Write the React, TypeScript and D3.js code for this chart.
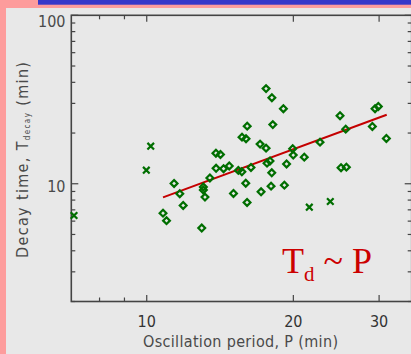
import { useEffect, useRef } from "react";
import * as d3 from "d3";

// oscillation period P (min) and decay time Td (min)
const periodDiamond = [
  10.8, 10.98, 11.38, 11.69, 11.88, 12.97, 13.07, 13.07, 13.17, 13.48,
  13.87, 13.88, 14.17, 14.38, 14.77, 15.07, 15.42, 15.68, 15.69, 15.97,
  15.99, 16.07, 16.08, 16.37, 17.09, 17.17, 17.58, 17.58, 17.66, 17.91,
  18.0, 18.06, 18.07, 18.15, 19.08, 19.17, 19.37, 19.94, 19.99, 21.06,
  22.69, 24.94, 25.06, 25.62, 25.7, 29.06, 29.43, 29.89, 31.05,
];
const decayDiamond = [
  6.69, 6.04, 10.04, 8.73, 7.43, 5.46, 9.57, 9.19, 8.33, 10.83,
  15.19, 12.36, 14.93, 12.28, 12.76, 8.76, 12.0, 11.78, 18.91, 10.08,
  18.5, 7.74, 21.98, 12.5, 17.19, 8.96, 16.27, 36.71, 13.25, 13.66,
  9.68, 11.62, 32.41, 22.44, 27.89, 9.81, 13.11, 16.14, 14.79, 14.39,
  17.66, 25.34, 12.45, 21.1, 12.55, 21.89, 27.89, 28.77, 18.58,
];
const periodCross = [7.09, 9.98, 10.19, 21.57, 23.82];
const decayCross = [6.48, 12.04, 16.72, 7.26, 7.85];

// fitted Td ~ P line
const fitPeriod = [10.8, 31.1];
const fitDecay = [8.3, 25.7];

const xMajorTicks = [10, 20, 30];
const xMinorTicks = [8, 9];
const yMajorTicks = [10, 100];
const yMinorTicks = [2, 3, 4, 5, 6, 7, 8, 9, 20, 30, 40, 50, 60, 70, 80, 90];

const App = () => {
  const svgRef = useRef<SVGSVGElement>(null);

  useEffect(() => {
    document.body.style.margin = "0";
    const svg = d3.select(svgRef.current);
    svg.selectAll("*").remove();

    const W = 411;
    const H = 354;
    const box = { left: 71.3, right: 411.7, top: 15.3, bottom: 301.5 };
    const green = "#006e00";
    const axisColor = "#444";
    const textColor = "#4a4a4a";
    const labelFont = "'Liberation Sans Narrow', 'DejaVu Sans Condensed', sans-serif";

    svg.attr("width", W).attr("height", H);

    // page background: pink frame, blue bar, gray panel
    svg.append("rect").attr("width", W).attr("height", H).attr("fill", "#fd9c9c");
    svg.append("rect").attr("x", 38).attr("y", 0).attr("width", W - 38).attr("height", 4.7).attr("fill", "#3737c9");
    svg.append("rect").attr("x", 6).attr("y", 8).attr("width", W - 6).attr("height", H - 8).attr("fill", "#e8e8e8");

    const x = d3.scaleLog().domain([7, 35]).range([box.left, box.right]);
    const y = d3.scaleLog().domain([2, 100]).range([box.bottom, box.top]);

    // frame
    svg.append("rect")
      .attr("x", box.left)
      .attr("y", box.top)
      .attr("width", box.right - box.left)
      .attr("height", box.bottom - box.top)
      .attr("fill", "none")
      .attr("stroke", axisColor)
      .attr("stroke-width", 1.6);

    // ticks on all four sides
    const ticks = svg.append("g").attr("stroke", axisColor).attr("stroke-width", 1.2);
    const xTick = (vals: number[], len: number) => {
      vals.forEach((v) => {
        ticks.append("line").attr("x1", x(v)).attr("x2", x(v)).attr("y1", box.bottom).attr("y2", box.bottom - len);
        ticks.append("line").attr("x1", x(v)).attr("x2", x(v)).attr("y1", box.top).attr("y2", box.top + len);
      });
    };
    const yTick = (vals: number[], len: number) => {
      vals.forEach((v) => {
        ticks.append("line").attr("x1", box.left).attr("x2", box.left + len).attr("y1", y(v)).attr("y2", y(v));
        ticks.append("line").attr("x1", box.right).attr("x2", box.right - len).attr("y1", y(v)).attr("y2", y(v));
      });
    };
    xTick(xMajorTicks, 6.5);
    xTick(xMinorTicks, 4);
    yTick(yMajorTicks, 7);
    yTick(yMinorTicks, 4);

    // tick labels
    svg.append("g")
      .selectAll("text")
      .data(xMajorTicks)
      .enter()
      .append("text")
      .attr("x", (d) => x(d))
      .attr("y", 327)
      .attr("text-anchor", "middle")
      .attr("font-family", labelFont)
      .attr("font-size", 16)
      .attr("fill", "#333")
      .text((d) => d);

    svg.append("g")
      .selectAll("text")
      .data(yMajorTicks)
      .enter()
      .append("text")
      .attr("x", 65.5)
      .attr("y", (d) => Math.max(y(d) + 2, box.top + 6))
      .attr("dy", "0.36em")
      .attr("text-anchor", "end")
      .attr("font-family", labelFont)
      .attr("font-size", 16)
      .attr("fill", textColor)
      .text((d) => d);

    // axis titles
    svg.append("text")
      .attr("x", 143)
      .attr("y", 347)
      .attr("textLength", 195)
      .attr("lengthAdjust", "spacing")
      .attr("font-family", labelFont)
      .attr("font-size", 16)
      .attr("fill", textColor)
      .text("Oscillation period, P (min)");

    const yTitle = svg.append("text")
      .attr("transform", "translate(28,258) rotate(-90)")
      .attr("textLength", 196)
      .attr("lengthAdjust", "spacing")
      .attr("font-family", labelFont)
      .attr("font-size", 16)
      .attr("fill", textColor);
    yTitle.append("tspan").text("Decay time, T");
    yTitle.append("tspan").attr("font-size", 8).attr("dy", 2).text("decay");
    yTitle.append("tspan").attr("dy", -2).text(" (min)");

    // fit line
    svg.append("line")
      .attr("x1", x(fitPeriod[0]))
      .attr("y1", y(fitDecay[0]))
      .attr("x2", x(fitPeriod[1]))
      .attr("y2", y(fitDecay[1]))
      .attr("stroke", "#c40000")
      .attr("stroke-width", 2);

    // diamonds
    const s = 3.4;
    svg.append("g")
      .selectAll("path")
      .data(periodDiamond.map((p, i) => [p, decayDiamond[i]]))
      .enter()
      .append("path")
      .attr("d", (d) => {
        const cx = x(d[0]);
        const cy = y(d[1]);
        return `M${cx},${cy - s}L${cx + s},${cy}L${cx},${cy + s}L${cx - s},${cy}Z`;
      })
      .attr("fill", "none")
      .attr("stroke", green)
      .attr("stroke-width", 2.2);

    // crosses
    const c = 3.3;
    svg.append("g")
      .selectAll("path")
      .data(periodCross.map((p, i) => [p, decayCross[i]]))
      .enter()
      .append("path")
      .attr("d", (d) => {
        const cx = x(d[0]);
        const cy = y(d[1]);
        return `M${cx - c},${cy - c}L${cx + c},${cy + c}M${cx - c},${cy + c}L${cx + c},${cy - c}`;
      })
      .attr("fill", "none")
      .attr("stroke", green)
      .attr("stroke-width", 2.2);

    // Td ~ P annotation
    const note = svg.append("text")
      .attr("x", 282)
      .attr("y", 273)
      .attr("font-family", "'Liberation Serif', 'Times New Roman', serif")
      .attr("font-size", 36)
      .attr("fill", "#cc0000");
    note.append("tspan").text("T");
    note.append("tspan").attr("font-size", 21).attr("dy", 8).text("d");
    note.append("tspan").attr("dy", -8).text(" ~ P");
  }, []);

  return <svg ref={svgRef} style={{ position: "absolute", left: 0, top: 0, display: "block" }}></svg>;
};

export default App;
